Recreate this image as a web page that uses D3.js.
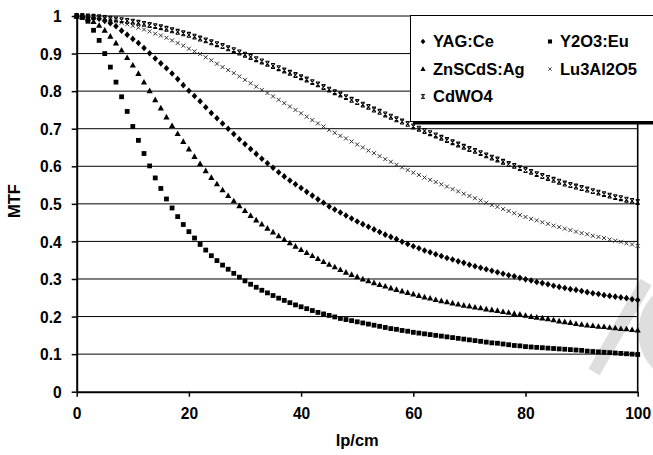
<!DOCTYPE html>
<html><head><meta charset="utf-8">
<script src="https://cdn.jsdelivr.net/npm/d3@7"></script>
<style>
body{margin:0;background:#fff;}
svg{display:block;}
text{font-family:"Liberation Sans",Arial,sans-serif;font-weight:bold;fill:#000;}
</style>
</head><body><svg id="c" width="653" height="455"></svg>
<script>
const lpcm = [0,1,2,3,4,5,6,7,8,9,10,11,12,13,14,15,16,17,18,19,20,21,22,23,24,25,26,27,28,29,30,31,32,33,34,35,36,37,38,39,40,41,42,43,44,45,46,47,48,49,50,51,52,53,54,55,56,57,58,59,60,61,62,63,64,65,66,67,68,69,70,71,72,73,74,75,76,77,78,79,80,81,82,83,84,85,86,87,88,89,90,91,92,93,94,95,96,97,98,99,100];

const yagCe = [1.000,0.999,0.997,0.995,0.993,0.987,0.981,0.973,0.961,0.950,
0.939,0.928,0.915,0.901,0.887,0.874,0.861,0.847,0.832,0.816,
0.801,0.787,0.773,0.757,0.742,0.728,0.714,0.700,0.686,0.672,
0.659,0.646,0.633,0.620,0.608,0.596,0.584,0.573,0.562,0.552,
0.542,0.532,0.522,0.512,0.503,0.493,0.485,0.477,0.469,0.461,
0.453,0.446,0.439,0.432,0.425,0.418,0.412,0.406,0.399,0.393,
0.387,0.382,0.376,0.371,0.366,0.361,0.356,0.352,0.347,0.343,
0.338,0.334,0.330,0.326,0.322,0.318,0.314,0.310,0.307,0.303,
0.299,0.296,0.292,0.289,0.286,0.282,0.279,0.276,0.273,0.271,
0.268,0.265,0.262,0.260,0.257,0.255,0.253,0.251,0.249,0.246,
0.244];

const y2o3Eu = [1.000,0.996,0.986,0.962,0.935,0.900,0.864,0.824,0.785,0.746,
0.706,0.669,0.634,0.601,0.569,0.541,0.513,0.489,0.466,0.445,
0.426,0.409,0.392,0.377,0.362,0.349,0.337,0.326,0.315,0.305,
0.295,0.286,0.278,0.270,0.263,0.256,0.249,0.243,0.237,0.231,
0.226,0.221,0.216,0.211,0.207,0.203,0.199,0.195,0.192,0.189,
0.186,0.183,0.180,0.177,0.174,0.171,0.168,0.166,0.163,0.161,
0.158,0.156,0.154,0.152,0.150,0.148,0.146,0.144,0.142,0.140,
0.138,0.136,0.134,0.132,0.130,0.129,0.127,0.125,0.123,0.122,
0.120,0.119,0.118,0.117,0.116,0.115,0.114,0.113,0.112,0.111,
0.110,0.108,0.107,0.106,0.105,0.104,0.103,0.102,0.101,0.100,
0.099];

const znscdsAg = [1.000,0.998,0.993,0.985,0.975,0.962,0.946,0.928,0.909,0.889,
0.869,0.847,0.824,0.801,0.777,0.755,0.731,0.708,0.687,0.666,
0.646,0.626,0.607,0.588,0.570,0.553,0.537,0.522,0.508,0.495,
0.482,0.469,0.457,0.446,0.435,0.425,0.415,0.405,0.396,0.387,
0.378,0.370,0.362,0.354,0.346,0.339,0.332,0.325,0.318,0.312,
0.306,0.300,0.295,0.290,0.285,0.281,0.276,0.272,0.268,0.264,
0.260,0.256,0.252,0.249,0.245,0.242,0.239,0.236,0.233,0.230,
0.228,0.225,0.223,0.220,0.218,0.216,0.213,0.211,0.208,0.206,
0.203,0.200,0.198,0.196,0.194,0.191,0.188,0.186,0.184,0.181,
0.179,0.177,0.176,0.174,0.173,0.171,0.170,0.168,0.167,0.165,
0.164];

const lu3al2o5 = [1.000,0.999,0.998,0.996,0.994,0.992,0.989,0.986,0.982,0.978,
0.974,0.969,0.964,0.959,0.953,0.948,0.942,0.935,0.928,0.921,
0.913,0.906,0.899,0.890,0.882,0.873,0.864,0.856,0.848,0.839,
0.830,0.821,0.812,0.803,0.795,0.786,0.777,0.768,0.759,0.750,
0.741,0.732,0.723,0.714,0.706,0.697,0.689,0.681,0.674,0.666,
0.658,0.650,0.642,0.635,0.627,0.619,0.612,0.604,0.597,0.590,
0.583,0.577,0.570,0.564,0.558,0.552,0.546,0.539,0.533,0.527,
0.521,0.515,0.509,0.503,0.497,0.492,0.486,0.481,0.475,0.470,
0.465,0.460,0.456,0.451,0.447,0.442,0.438,0.434,0.430,0.426,
0.422,0.419,0.415,0.412,0.409,0.405,0.402,0.399,0.395,0.392,
0.388];

const cdwo4 = [1.000,1.000,0.999,0.998,0.997,0.995,0.993,0.991,0.989,0.987,
0.985,0.982,0.979,0.976,0.973,0.970,0.966,0.962,0.958,0.954,
0.950,0.945,0.940,0.935,0.930,0.925,0.920,0.914,0.909,0.903,
0.897,0.891,0.885,0.879,0.873,0.867,0.861,0.855,0.849,0.843,
0.837,0.831,0.824,0.818,0.811,0.804,0.797,0.791,0.784,0.777,
0.771,0.764,0.758,0.751,0.745,0.738,0.732,0.725,0.719,0.713,
0.706,0.700,0.694,0.688,0.682,0.676,0.670,0.664,0.658,0.652,
0.646,0.641,0.635,0.629,0.623,0.618,0.612,0.606,0.601,0.595,
0.590,0.585,0.579,0.574,0.569,0.564,0.559,0.554,0.550,0.546,
0.542,0.538,0.534,0.530,0.526,0.522,0.518,0.515,0.511,0.508,
0.505];

const xTicks = [0,20,40,60,80,100];
const yTicks = [0,0.1,0.2,0.3,0.4,0.5,0.6,0.7,0.8,0.9,1];
const yTickLabels = ["0","0.1","0.2","0.3","0.4","0.5","0.6","0.7","0.8","0.9","1"];
const seriesNames = ["YAG:Ce","Y2O3:Eu","ZnSCdS:Ag","Lu3Al2O5","CdWO4"];

const markerPaths = {
  diamond: {d:"M0,-3.3L2.8,0L0,3.3L-2.8,0Z", fill:"#000", stroke:"none", sw:0},
  square: {d:"M-2.4,-2.4h4.8v4.8h-4.8Z", fill:"#000", stroke:"none", sw:0},
  triangle: {d:"M0,-3.2L3.1,2.4L-3.1,2.4Z", fill:"#000", stroke:"none", sw:0},
  cross: {d:"M-2,-2L2,2M-2,2L2,-2", fill:"none", stroke:"#333", sw:1},
  star: {d:"M-2,-2.4H2M-2,2.4H2M-1.8,-2.2L1.8,2.2M1.8,-2.2L-1.8,2.2", fill:"none", stroke:"#000", sw:1.1}
};

const series = [
  {name:seriesNames[0], values:yagCe, m:"diamond"},
  {name:seriesNames[1], values:y2o3Eu, m:"square"},
  {name:seriesNames[2], values:znscdsAg, m:"triangle"},
  {name:seriesNames[3], values:lu3al2o5, m:"cross"},
  {name:seriesNames[4], values:cdwo4, m:"star"}
];

const svg = d3.select("#c");
const L = 76.7, R = 637.7, T = 16, B = 391.7;
const x = d3.scaleLinear().domain([0,100]).range([L,R]);
const y = d3.scaleLinear().domain([0,1]).range([B,T]);

// watermark (light grey, behind everything)
const wm = svg.append("g").attr("fill","none").attr("stroke","#dedede");
wm.append("line").attr("x1",594).attr("y1",372).attr("x2",646).attr("y2",282).attr("stroke-width",13);
wm.append("circle").attr("cx",692).attr("cy",332).attr("r",46).attr("stroke-width",15);

// gridlines
svg.append("g").selectAll("line").data(yTicks.slice(1)).join("line")
  .attr("x1",L).attr("x2",R).attr("y1",d=>y(d)).attr("y2",d=>y(d))
  .attr("stroke","#000").attr("stroke-width",1);

// right border
svg.append("line").attr("x1",R).attr("x2",R).attr("y1",T).attr("y2",B)
  .attr("stroke","#000").attr("stroke-width",1.6);

// series markers
series.forEach(s=>{
  const mp = markerPaths[s.m];
  svg.append("g").selectAll("path").data(s.values).join("path")
    .attr("transform",(v,i)=>`translate(${x(lpcm[i])},${y(v)})`)
    .attr("d",mp.d).attr("fill",mp.fill).attr("stroke",mp.stroke).attr("stroke-width",mp.sw);
});

// axes
const yAxis = d3.axisLeft(y).tickValues(yTicks).tickFormat((d,i)=>yTickLabels[i])
  .tickSizeInner(5).tickSizeOuter(0).tickPadding(10);
const gy = svg.append("g").attr("transform",`translate(${L},0)`).call(yAxis);
const xAxis = d3.axisBottom(x).tickValues(xTicks).tickFormat(d3.format("d"))
  .tickSizeInner(5).tickSizeOuter(0).tickPadding(11);
const gx = svg.append("g").attr("transform",`translate(0,${B})`).call(xAxis);
[gy,gx].forEach(g=>{
  g.select(".domain").attr("stroke","#000").attr("stroke-width",2);
  g.selectAll(".tick line").attr("stroke","#000").attr("stroke-width",1.5);
  g.selectAll("text").attr("font-size",15.6).attr("font-family",'"Liberation Sans",Arial,sans-serif').attr("font-weight","bold").attr("fill","#000");
});
gy.selectAll(".tick text").attr("dy","0.36em");

// axis titles
svg.append("text").attr("transform","translate(20,201) rotate(-90)")
  .attr("text-anchor","middle").attr("font-size",16.5).text("MTF");
svg.append("text").attr("x",(L+R)/2).attr("y",446)
  .attr("text-anchor","middle").attr("font-size",16.5).text("lp/cm");

// legend
const lg = svg.append("g");
lg.append("rect").attr("x",413).attr("y",18.5).attr("width",260).attr("height",106).attr("fill","#000");
lg.append("rect").attr("x",410.5).attr("y",15.5).attr("width",260).attr("height",106)
  .attr("fill","#fff").attr("stroke","#000").attr("stroke-width",1);
const legPos = [[423,41.5],[550,41.5],[423,69],[550,69],[423,96.5]];
series.forEach((s,i)=>{
  const mp = markerPaths[s.m];
  const [lx,ly] = legPos[i];
  lg.append("path").attr("transform",`translate(${lx},${ly}) scale(0.85)`)
    .attr("d",mp.d).attr("fill",mp.fill).attr("stroke",mp.stroke).attr("stroke-width",mp.sw);
  lg.append("text").attr("x",lx+10).attr("y",ly+5.8).attr("font-size",16.5).text(s.name);
});
</script></body></html>
